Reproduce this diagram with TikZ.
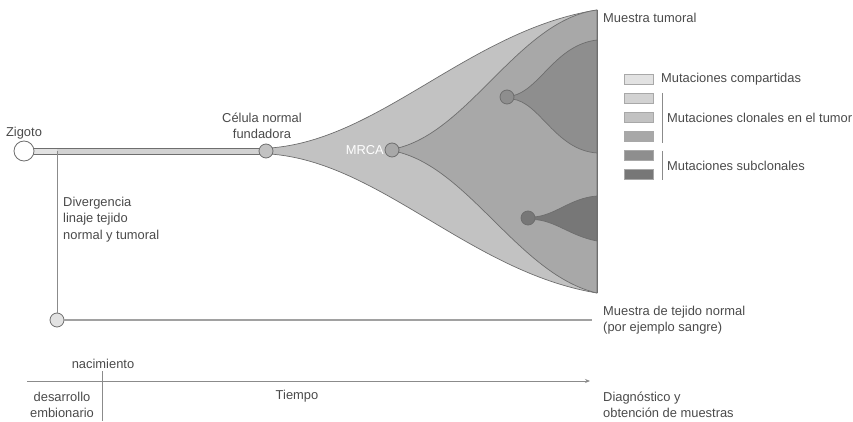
\documentclass[tikz,border=0pt]{standalone}
\usepackage{fontspec}
\setmainfont{Liberation Sans}
\usetikzlibrary{arrows.meta,positioning,calc}
\definecolor{ink}{HTML}{4A4A4A}
\definecolor{edge}{HTML}{6E6E6E}
\definecolor{shared}{HTML}{E2E2E2}
\definecolor{clonea}{HTML}{D2D2D2}
\definecolor{cloneb}{HTML}{C2C2C2}
\definecolor{clonec}{HTML}{A8A8A8}
\definecolor{subone}{HTML}{8E8E8E}
\definecolor{subtwo}{HTML}{777777}

\begin{document}
\begin{tikzpicture}[
  x=1pt, y=-1pt,
  font=\fontsize{12.9}{16.5}\selectfont,
  every node/.style={text=ink},
  label/.style={inner sep=0pt, align=left},
  cell/.style={circle, draw=edge, line width=0.8pt, minimum size=14pt, inner sep=0pt},
  region/.style={draw=edge, line width=0.7pt},
  legbox/.style={draw=edge!60, line width=0.5pt, minimum width=29pt, minimum height=10pt, inner sep=0pt},
  thin line/.style={draw=edge!80, line width=0.9pt}
]
\useasboundingbox (0,0) rectangle (853,422);

% lineage bar
\coordinate (div) at (57,151);
\fill[shared] (34,148) rectangle (57,154);
\fill[clonea] (57,148) rectangle (262,154);
\draw[edge, line width=0.6pt] (30,148) -- (262,148) (30,154) -- (262,154);

% tumour fan
\coordinate (top) at (597,10);
\coordinate (bot) at (597,293);
\fill[cloneb] (270,148) .. controls (380,140) and (470,30) .. (top)
  -- (bot) .. controls (470,272) and (380,162) .. (270,154) -- cycle;
\draw[region] (270,148) .. controls (380,140) and (470,30) .. (top);
\draw[region] (270,154) .. controls (380,162) and (470,272) .. (bot);
\draw[region, fill=clonec] (398,148) .. controls (470,130) and (520,20) .. (top)
  -- (bot) .. controls (520,275) and (470,170) .. (398,152) -- cycle;
\draw[region, fill=subone] (512,96) .. controls (540,90) and (555,45) .. (597,40)
  -- (597,153) .. controls (555,150) and (540,102) .. (512,99) -- cycle;
\draw[region, fill=subtwo] (533,217) .. controls (555,216) and (570,198) .. (597,196)
  -- (597,241) .. controls (570,236) and (555,220) .. (533,219.5) -- cycle;
\draw[region] (top) -- (bot);

% cells
\node[cell, minimum size=20pt, fill=white] (zyg) at (24,151) {};
\node[cell, fill=cloneb] (fund) at (266,151) {};
\node[cell, fill=clonec] (mrca) at (392,150) {};
\node[cell, fill=subone] (suba) at (507,97) {};
\node[cell, fill=subtwo] (subb) at (528,218) {};
\node[cell, fill=shared] (normal) at (57,320) {};
\coordinate (normalend) at (592,320);
\draw[thin line] (div) -- (normal);
\draw[edge!65, line width=1.6pt] (normal) -- (normalend);

% labels
\node[label, align=center] (zyglab) at (24,133) {Zigoto};
\node[label, align=center] (fundlab) at (262,126) {Célula normal\\fundadora};
\node[label, text=white, anchor=east] (mrcalab) at (384,150) {MRCA};
\node[label, anchor=west] (divlab) at (63,219.5) {Divergencia\\linaje tejido\\normal y tumoral};
\node[label, anchor=west] (tumlab) at (603,18) {Muestra tumoral};
\node[label, anchor=west] (normlab) at (603,320) {Muestra de tejido normal\\(por ejemplo sangre)};

% legend
\node[legbox, fill=shared] (lega) at (639,79.5) {};
\node[legbox, fill=clonea, below=8.5pt of lega] (legb) {};
\node[legbox, fill=cloneb, below=8.5pt of legb] (legc) {};
\node[legbox, fill=clonec, below=8.5pt of legc] (legd) {};
\node[legbox, fill=subone, below=8.5pt of legd] (lege) {};
\node[legbox, fill=subtwo, below=8.5pt of lege] (legf) {};
\node[label, anchor=west] (legatext) at (661,79.5) {Mutaciones compartidas};
\coordinate (clontop) at (662,93);
\coordinate (clonbot) at (662,143);
\coordinate (subtop) at (662,151);
\coordinate (subbot) at (662,180);
\draw[thin line] (clontop) -- (clonbot);
\draw[thin line] (subtop) -- (subbot);
\node[label, anchor=west] (clontext) at (667,117.5) {Mutaciones clonales en el tumor};
\node[label, anchor=west] (subtext) at (667,165.5) {Mutaciones subclonales};

% time axis
\coordinate (tstart) at (27,381);
\coordinate (tend) at (590,381);
\coordinate (birthtop) at (102,371);
\coordinate (birthbot) at (102,421);
\draw[thin line, -{Stealth[length=5pt, width=4pt]}] (tstart) -- (tend);
\draw[thin line] (birthtop) -- (birthbot);
\node[label] (birthlab) at (103,364) {nacimiento};
\node[label, align=center] (embrlab) at (62,405) {desarrollo\\embionario};
\node[label] (timelab) at (297,396) {Tiempo};
\node[label, anchor=west] (diaglab) at (603,405) {Diagnóstico y\\obtención de muestras};
\end{tikzpicture}
\end{document}
